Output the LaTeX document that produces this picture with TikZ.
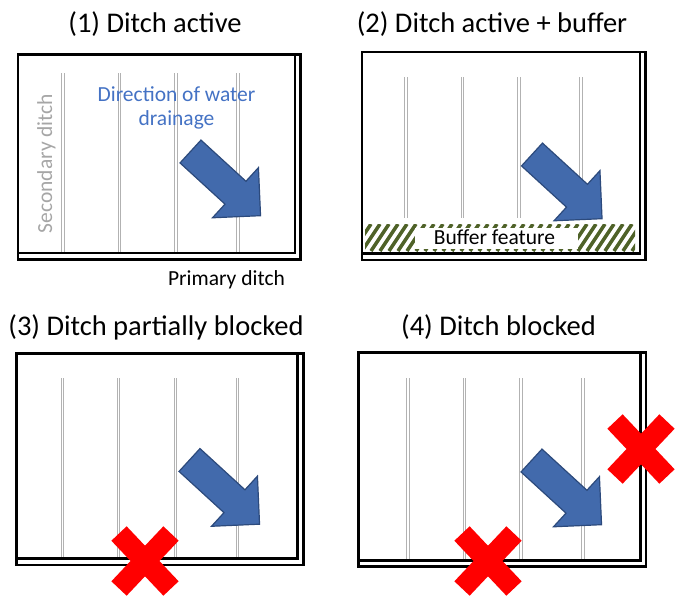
\documentclass[tikz,border=0pt]{standalone}
\usepackage{fontspec}
\setmainfont{Carlito}
\definecolor{flowblue}{RGB}{66,106,172}
\definecolor{flowedge}{RGB}{44,74,124}
\definecolor{labelblue}{RGB}{68,114,196}
\definecolor{buffergreen}{RGB}{79,98,40}
\tikzset{
  frame/.style={line width=2.7pt, black},
  ditch/.style={draw=gray!60, line width=1pt, double=white, double distance=1.4pt},
  flow/.style={fill=flowblue, draw=flowedge, line width=1.2pt, line join=miter},
  blocked/.style={draw=red, line width=21pt},
  stripe/.style={draw=buffergreen, line width=3.5pt},
  title/.style={font=\fontsize{28.5}{34}\selectfont, anchor=base},
  note/.style={font=\fontsize{21.5}{24}\selectfont, anchor=base},
}
\begin{document}
\begin{tikzpicture}[x=1pt, y=-1pt]
\useasboundingbox (0,0) rectangle (675,598);
% fields: frame, primary ditch along right and bottom, four secondary ditches
\foreach \px/\py/\w/\h/\dx/\dtop/\dbot in {18/54.5/282.5/205/45/18.5/198.5, 362/52/283.5/208/44/25/166, 16.2/353.3/287/211.7/46/24.7/205.2, 358.3/352.3/287.7/214.4/49.5/25.7/207.9}{
\begin{scope}[shift={(\px,\py)}]
\foreach \k in {0,56.5,113,175} \draw[ditch] (\dx+\k,\dtop) -- (\dx+\k,\dbot);
\draw[frame] (0,0) rectangle (\w,\h);
\draw[frame] (\w-5.5,1.2) -- (\w-5.5,\h-6.5) -- (1.2,\h-6.5);
\end{scope}
}
% buffer strip in field 2
\begin{scope}
\clip (365,224) rectangle (635,251);
\foreach \s in {344,353,...,640} \draw[stripe] (\s,251) -- ++(18,-27);
\end{scope}
\fill[white] (415,228) rectangle (578,248.5);
\node[note] (buf) at (494.5,244.3) {Buffer feature};
% drainage arrows
\foreach \tx/\ty in {190.5/151.5, 532/154.5, 189.5/460, 531.5/460.5}
  \draw[flow, shift={(\tx,\ty)}, rotate=-42.5] (0,-15.5) -- (61,-15.5) -- (61,-34) -- (95,0) -- (61,34) -- (61,15.5) -- (0,15.5) -- cycle;
% blockages
\coordinate (block3) at (145,561);
\coordinate (block4a) at (488,561);
\coordinate (block4b) at (641,449);
\foreach \b in {block3,block4a,block4b}{
  \draw[blocked] (\b) ++(-26,-27.5) -- ++(52,55);
  \draw[blocked] (\b) ++(26,-27.5) -- ++(-52,55);
}
% labels
\node[title] (t1) at (155,32) {(1) Ditch active};
\node[title] (t2) at (492,32) {(2) Ditch active + buffer};
\node[title] (t3) at (156,335) {(3) Ditch partially blocked};
\node[title] (t4) at (498.5,335) {(4) Ditch blocked};
\node[note, text=labelblue, align=center] (drain) at (176.5,125.7) {Direction of water\\drainage};
\node[note, text=gray!70, rotate=90] (sec) at (52,163.5) {Secondary ditch};
\node[note] (prim) at (226.5,285) {Primary ditch};
\end{tikzpicture}
\end{document}
